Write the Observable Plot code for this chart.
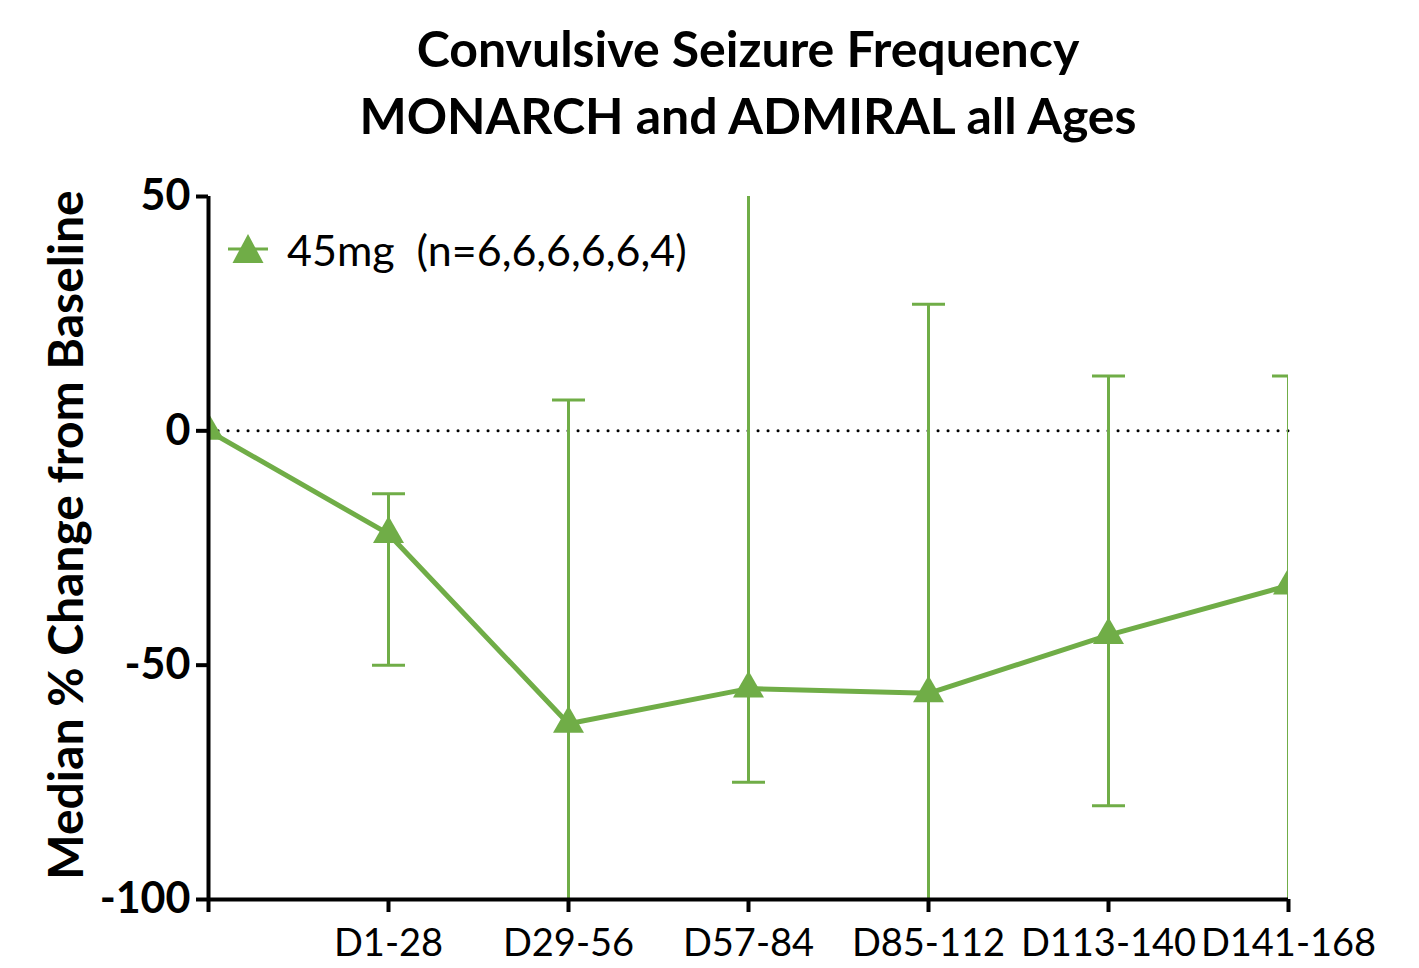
<!DOCTYPE html>
<html>
<head>
<meta charset="utf-8">
<script src="https://cdn.jsdelivr.net/npm/d3@7"></script>
<script src="https://cdn.jsdelivr.net/npm/@observablehq/plot@0.6"></script>
<style>
  body { margin: 0; background: #fff; font-family: Lato, "Open Sans", sans-serif; }
  #wrap { position: relative; width: 1419px; height: 968px; overflow: hidden; }
  #title { position: absolute; left: 0; top: 15px; width: 1496px; text-align: center;
           font-weight: bold; font-size: 50px; line-height: 67px; color: #000; }
  #ylab { position: absolute; left: -335px; top: 510px; width: 800px; height: 50px; line-height: 50px;
          text-align: center; transform: rotate(-90deg); font-weight: bold; font-size: 48px; color: #000; white-space: nowrap; }
  #legend { position: absolute; left: 226px; top: 224px; height: 50px; display: flex; align-items: center;
            font-size: 43px; color: #000; white-space: pre; }
  #chart { position: absolute; left: 0; top: 0; }
  #chart svg { font-family: Lato, sans-serif; }
  [aria-label="y-axis tick label"] text { font-weight: bold; }
</style>
</head>
<body>
<div id="wrap">
  <div id="chart"></div>
  <div id="title">Convulsive Seizure Frequency<br>MONARCH and ADMIRAL all Ages</div>
  <div id="ylab">Median % Change from Baseline</div>
  <div id="legend"><svg width="44" height="40" viewBox="-22 -20 44 40" style="margin-right:17px"><line x1="-20" x2="20" y1="0" y2="0" stroke="#70AD47" stroke-width="3"/><path d="M0,-15L15.5,14L-15.5,14Z" fill="#70AD47"/></svg><span id="legtext"></span></div>
</div>
<script>
const periods = ["Baseline", "D1-28", "D29-56", "D57-84", "D85-112", "D113-140", "D141-168"];
const median  = [0, -22, -62.5, -55, -56, -43.6, -33];
const upper   = [0, -13.4, 6.6, 60, 27, 11.7, 11.7];
const lower   = [0, -50, -100, -75, -100, -80, -100];
const yTicks  = [50, 0, -50, -100];
const yDomain = [-100, 50];
const seriesLabel = "45mg  (n=6,6,6,6,6,4)";
const green = "#70AD47";

document.getElementById("legtext").textContent = seriesLabel;

const data = periods.map((p, i) => ({period: p, median: median[i], upper: upper[i], lower: lower[i]}));
const errData = data.filter(d => d.period !== "Baseline");

const capSymbol = { draw(ctx) { ctx.moveTo(-16.5, 0); ctx.lineTo(16.5, 0); } };

const chart = Plot.plot({
  width: 1419,
  height: 968,
  marginLeft: 208,
  marginRight: 131,
  marginTop: 196,
  marginBottom: 69,
  style: { fontFamily: "Lato, sans-serif", background: "#fff", color: "#000" },
  x: { type: "point", domain: periods, padding: 0 },
  y: { domain: yDomain },
  marks: [
    Plot.ruleY([0], { stroke: "#000", strokeWidth: 3, strokeDasharray: "0.1,9.9", strokeLinecap: "round" }),
    Plot.ruleX(errData, { x: "period", y1: "lower", y2: "upper", stroke: green, strokeWidth: 3, clip: true }),
    Plot.dot(errData, { x: "period", y: "upper", symbol: capSymbol, fill: "none", stroke: green, strokeWidth: 3, clip: true }),
    Plot.dot(errData, { x: "period", y: "lower", symbol: capSymbol, fill: "none", stroke: green, strokeWidth: 3, clip: true }),
    Plot.line(data, { x: "period", y: "median", stroke: green, strokeWidth: 5, clip: true }),
    Plot.dot(data, { x: "period", y: "median", symbol: "triangle", r: 11.5, fill: green, stroke: "none", clip: true }),
    Plot.ruleY([yDomain[0]], { stroke: "#000", strokeWidth: 4 }),
    Plot.ruleX([periods[0]], { y1: yDomain[0], y2: yDomain[1], stroke: "#000", strokeWidth: 4 }),
    Plot.axisY({ ticks: yTicks, tickSize: 12, tickPadding: 6, fontSize: 43, fontWeight: "bold", strokeWidth: 4, label: null,
                 tickFormat: d => String(d) }),
    Plot.axisX({ tickSize: 13, tickPadding: 17, fontSize: 38, strokeWidth: 4, label: null,
                 tickFormat: d => d === "Baseline" ? "" : d })
  ]
});
document.getElementById("chart").appendChild(chart);
</script>
</body>
</html>
